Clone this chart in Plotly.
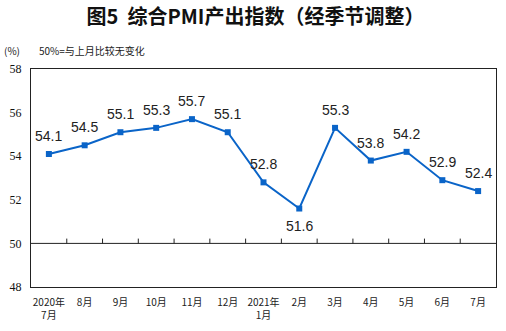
import plotly.graph_objects as go

months = ["2020年<br>7月", "8月", "9月", "10月", "11月", "12月", "2021年<br>1月",
          "2月", "3月", "4月", "5月", "6月", "7月"]
pmi = [54.1, 54.5, 55.1, 55.3, 55.7, 55.1, 52.8, 51.6, 55.3, 53.8, 54.2, 52.9, 52.4]
label_below = [False] * 7 + [True] + [False] * 5
y_ticks = [48, 50, 52, 54, 56, 58]

line_color = "#0A64C8"
cjk = "Noto Sans CJK SC"

fig = go.Figure()
fig.add_trace(go.Scatter(
    x=months, y=pmi, mode="lines+markers",
    line=dict(color=line_color, width=2),
    marker=dict(symbol="square", size=6, color=line_color),
    hoverinfo="x+y", showlegend=False,
))

for m, v, below in zip(months, pmi, label_below):
    fig.add_annotation(x=m, y=v, text=f"{v:.1f}", showarrow=False,
                       yshift=-17 if below else 18,
                       font=dict(family="Liberation Sans, Arial", size=14, color="#222"))

# 50% reference line with short upward ticks between the months
fig.add_shape(type="line", xref="paper", x0=0, x1=1, yref="y", y0=50, y1=50,
              line=dict(color="#222", width=1))
for i in range(len(months) - 1):
    fig.add_shape(type="line", xref="x", x0=i + 0.5, x1=i + 0.5,
                  yref="y", y0=50, y1=50.22, line=dict(color="#222", width=1))

fig.update_layout(
    width=506, height=331,
    margin=dict(l=29, r=9, t=69, b=42),
    paper_bgcolor="white", plot_bgcolor="white",
    title=dict(text="<b>图5  综合PMI产出指数（经季节调整）</b>", x=0.505, xanchor="center",
               y=0.948, yanchor="middle",
               font=dict(family=cjk, size=20, color="#111")),
    xaxis=dict(type="category", categoryorder="array", categoryarray=months,
               range=[-0.5, len(months) - 0.5],
               showline=True, linecolor="#222", linewidth=1.2, mirror=True,
               ticks="", showgrid=False, ticklabelstandoff=6,
               tickfont=dict(family=cjk, size=10, color="#222")),
    yaxis=dict(range=[48, 58], tickvals=y_ticks, showgrid=False,
               showline=True, linecolor="#222", linewidth=1.2, mirror=True,
               ticks="", zeroline=False, ticklabelstandoff=6,
               tickfont=dict(family="Liberation Serif, Times New Roman", size=12, color="#111")),
)

fig.add_annotation(xref="paper", yref="paper", x=-0.062, y=1.083, xanchor="left",
                   yanchor="middle", text="(%)", showarrow=False,
                   font=dict(family=cjk, size=10, color="#222"))
fig.add_annotation(xref="paper", yref="paper", x=0.012, y=1.085, xanchor="left",
                   yanchor="middle", text="50%=与上月比较无变化", showarrow=False,
                   font=dict(family=cjk, size=10, color="#222"))

fig.write_html("out.html")
